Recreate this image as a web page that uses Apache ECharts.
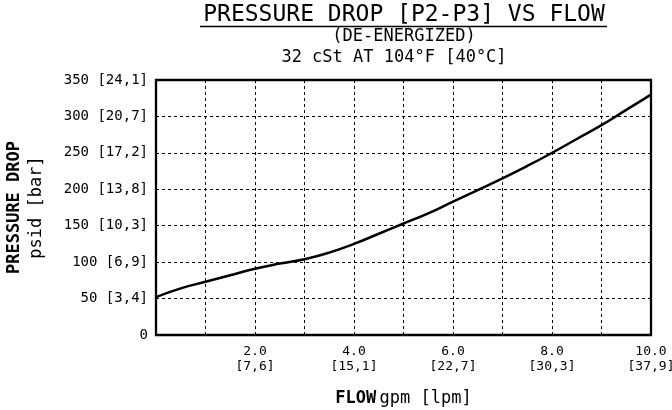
<!DOCTYPE html>
<html>
<head>
<meta charset="utf-8">
<script src="https://cdn.jsdelivr.net/npm/echarts@6/dist/echarts.min.js"></script>
<style>
html,body{margin:0;padding:0;background:#fff;}
#c{width:672px;height:410px;}
</style>
</head>
<body>
<div id="c"></div>
<script>
// Data
var flowGpm = [0, 0.5, 1, 1.5, 2, 2.5, 3, 3.5, 4, 4.5, 5, 5.5, 6, 6.5, 7, 7.5, 8, 8.5, 9, 9.5, 10];
var pressurePsid = [52, 64, 73, 82, 91, 98, 104, 113, 125, 139, 153, 167, 183, 199, 215, 232, 250, 269, 288, 309, 330];

var xTickLabels = {2: '2.0\n[7,6]', 4: '4.0\n[15,1]', 6: '6.0\n[22,7]', 8: '8.0\n[30,3]', 10: '10.0\n[37,9]'};
var yTickLabels = {0: '0', 50: '50 [3,4]', 100: '100 [6,9]', 150: '150 [10,3]', 200: '200 [13,8]', 250: '250 [17,2]', 300: '300 [20,7]', 350: '350 [24,1]'};

var titleText = 'PRESSURE DROP [P2-P3] VS FLOW';
var subText1 = '(DE-ENERGIZED)';
var subText2 = '32 cSt AT 104°F [40°C]';

var FONT = "'DejaVu Sans Mono', 'Liberation Mono', monospace";

var chart = echarts.init(document.getElementById('c'), null, {renderer: 'canvas'});
var option = {
  backgroundColor: '#fff',
  animation: false,
  graphic: [
    {type: 'text', x: 404, y: 15, style: {text: titleText, fontFamily: FONT, fontSize: 23, fill: '#000', align: 'center', verticalAlign: 'middle'}},
    {type: 'line', shape: {x1: 200, y1: 26.5, x2: 607, y2: 26.5}, style: {stroke: '#000', lineWidth: 1.5}},
    {type: 'text', x: 404, y: 37, style: {text: subText1, fontFamily: FONT, fontSize: 17, fill: '#000', align: 'center', verticalAlign: 'middle'}},
    {type: 'text', x: 394, y: 58, style: {text: subText2, fontFamily: FONT, fontSize: 17, fill: '#000', align: 'center', verticalAlign: 'middle'}}
  ],
  grid: {left: 156, top: 80, right: 21, bottom: 75, show: true, borderColor: '#000', borderWidth: 2.3,
         outerBoundsMode: 'none', containLabel: false},
  xAxis: {
    type: 'value', min: 0, max: 10, interval: 1,
    axisLine: {show: false},
    axisTick: {show: false},
    splitLine: {show: true, lineStyle: {color: '#000', type: [3, 3], width: 1}},
    axisLabel: {
      fontFamily: FONT, fontSize: 13, color: '#000', lineHeight: 15, margin: 9,
      formatter: function (v) { return xTickLabels[v] || ''; }
    },
    name: '{b|FLOW} {n|gpm [lpm]}', nameLocation: 'middle', nameGap: 54,
    nameTextStyle: {
      rich: {
        b: {fontFamily: FONT, fontSize: 17, fontWeight: 'bold', color: '#000', lineHeight: 20},
        n: {fontFamily: FONT, fontSize: 17, color: '#000', lineHeight: 20}
      }
    }
  },
  yAxis: {
    type: 'value', min: 0, max: 350, interval: 50,
    axisLine: {show: false},
    axisTick: {show: false},
    splitLine: {show: true, lineStyle: {color: '#000', type: [3, 3], width: 1}},
    axisLabel: {
      fontFamily: FONT, fontSize: 14, color: '#000', margin: 8,
      formatter: function (v) { return yTickLabels[v] || ''; }
    },
    name: '{b|PRESSURE DROP}\n{n|psid [bar]}', nameLocation: 'middle', nameGap: 108, nameRotate: 90,
    nameTextStyle: {
      lineHeight: 22,
      rich: {
        b: {fontFamily: FONT, fontSize: 17, fontWeight: 'bold', color: '#000', lineHeight: 22},
        n: {fontFamily: FONT, fontSize: 17, color: '#000', lineHeight: 22}
      }
    }
  },
  series: [{
    type: 'line', smooth: true, showSymbol: false,
    data: flowGpm.map(function (x, i) { return [x, pressurePsid[i]]; }),
    lineStyle: {color: '#000', width: 2.5}
  }]
};
chart.setOption(option);
</script>
</body>
</html>
